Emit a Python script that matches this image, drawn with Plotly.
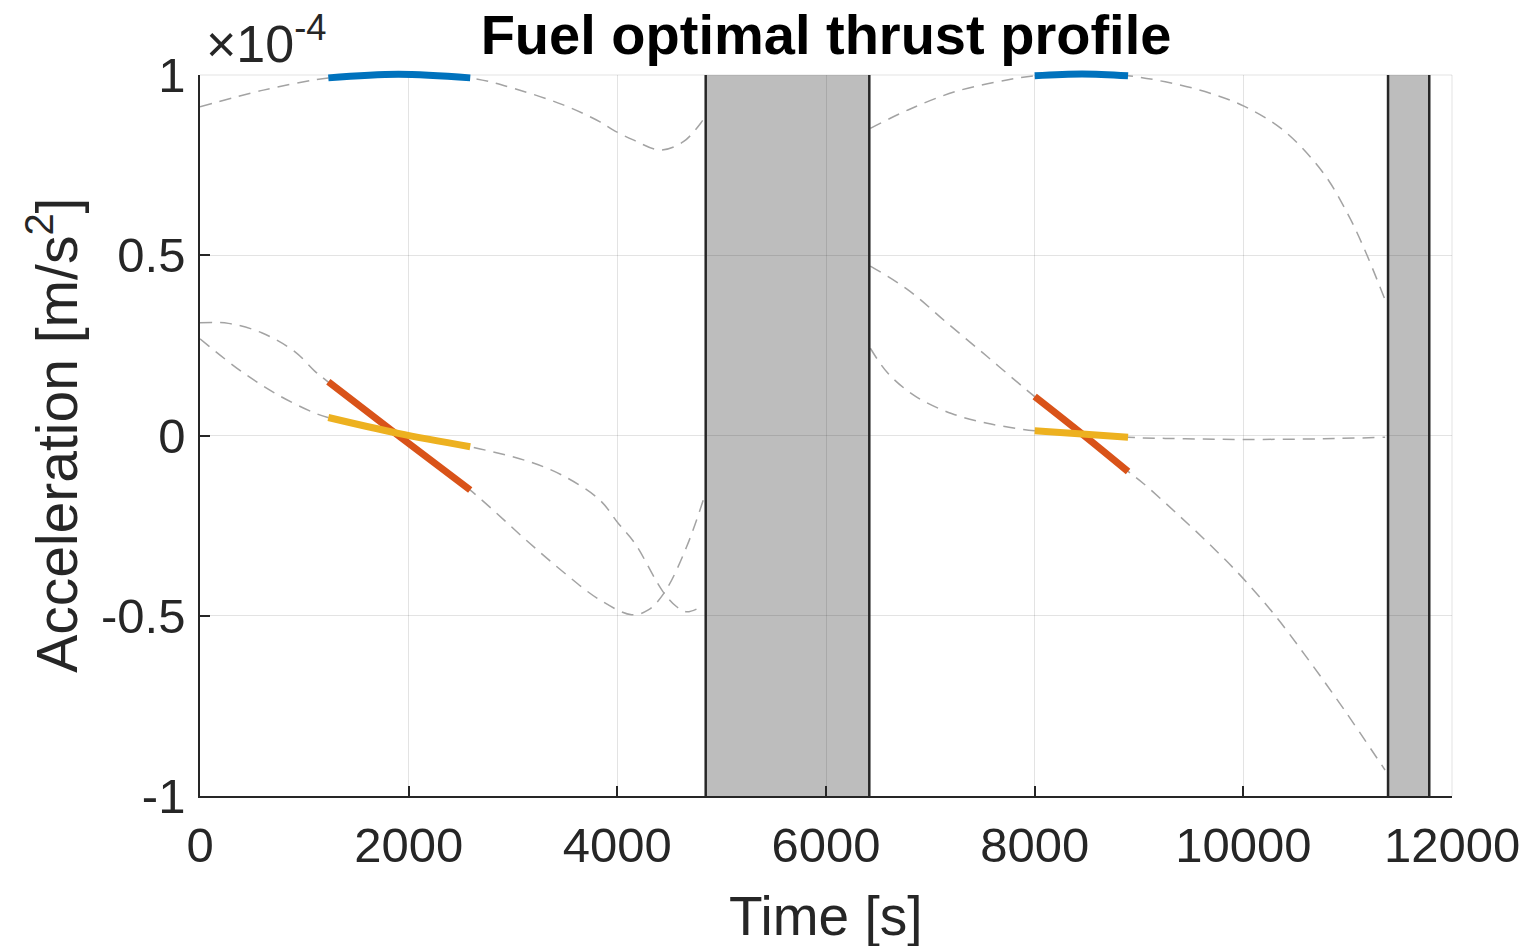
import plotly.graph_objects as go

# ---------------- data (acceleration in units of 1e-4 m/s^2, time in s) ----------------
# Coast/primer-vector curves, arc 1
arc1_tA = [0, 607, 1086, 1230, 1885, 2590, 3003, 3482, 3834, 3962, 4153, 4409, 4633, 4808, 4840]
arc1_A  = [0.912, 0.958, 0.986, 0.992, 1.002, 0.992, 0.963, 0.917, 0.870, 0.847, 0.820, 0.792, 0.815, 0.870, 0.885]
arc1_tB = [0, 272, 591, 911, 1102, 1227, 1900, 2588, 3160, 3496, 3832, 4137, 4297, 4457, 4665, 4824]
arc1_B  = [0.313, 0.311, 0.285, 0.232, 0.178, 0.149, 0.000, -0.151, -0.299, -0.382, -0.456, -0.497, -0.484, -0.433, -0.308, -0.179]
arc1_tC = [0, 400, 751, 1102, 1227, 1899, 2588, 3160, 3496, 3832, 4010, 4168, 4437, 4569, 4665, 4776]
arc1_C  = [0.268, 0.177, 0.112, 0.062, 0.050, 0.006, -0.031, -0.073, -0.114, -0.179, -0.244, -0.299, -0.433, -0.475, -0.489, -0.479]

# Coast/primer-vector curves, arc 2
arc2_tA = [6425, 6786, 7241, 7734, 8000, 8455, 8892, 9252, 9632, 10011, 10391, 10770, 10998, 11150, 11359]
arc2_A  = [0.852, 0.903, 0.954, 0.986, 0.998, 1.003, 0.998, 0.981, 0.954, 0.913, 0.845, 0.727, 0.616, 0.524, 0.376]
arc2_tB = [6425, 6786, 7165, 7545, 7886, 8000, 8898, 9042, 9361, 9681, 10000, 10320, 10639, 10958, 11358]
arc2_B  = [0.470, 0.404, 0.311, 0.219, 0.135, 0.108, -0.100, -0.133, -0.216, -0.303, -0.397, -0.505, -0.628, -0.757, -0.928]
arc2_tC = [6425, 6596, 6862, 7203, 7545, 7886, 8000, 8892, 9442, 10011, 10770, 11359]
arc2_C  = [0.242, 0.172, 0.108, 0.061, 0.034, 0.017, 0.013, -0.005, -0.009, -0.011, -0.009, -0.005]

# Thrust arcs (components)
thr1_t = [1230, 1900, 2590]
thr1_x = [0.992, 1.002, 0.992]
thr1_y = [0.149, 0.000, -0.151]
thr1_z = [0.050, 0.006, -0.031]
thr2_t = [8000, 8455, 8895]
thr2_x = [0.998, 1.003, 0.998]
thr2_y = [0.108, 0.004, -0.100]
thr2_z = [0.013, 0.004, -0.005]

# Eclipse intervals
ecl_start = [4847, 11387]
ecl_end   = [6415, 11782]

x_ticks = [0, 2000, 4000, 6000, 8000, 10000, 12000]
y_ticks = [-1, -0.5, 0, 0.5, 1]
y_ticktext = ["-1", "-0.5", "0", "0.5", "1"]

# ---------------- figure ----------------
GRAY_DASH = "#a3a3a3"
BLUE, RED, YEL = "#0072BD", "#D95319", "#EDB120"
TXT = "#262626"
GRID = "rgba(38,38,38,0.13)"
FONT = "Liberation Sans, Arial, Helvetica, sans-serif"

W, H = 1527, 946
PAGE_OFF = 8                     # default body margin of the html page
M_L, M_R = 200 - PAGE_OFF, 75 + PAGE_OFF
M_T, M_B = 67 - PAGE_OFF, 150 + PAGE_OFF
PLOT_H = H - M_T - M_B          # includes an 8px headroom strip for the thick lines
AX_H = PLOT_H - 8               # 721 px for the visible y-range [-1, 1]
y_lo, y_hi = -1, 1
y2_hi = y_lo + (y_hi - y_lo) * PLOT_H / AX_H

fig = go.Figure()

for tt, vv in [(arc1_tA, arc1_A), (arc1_tB, arc1_B), (arc1_tC, arc1_C),
               (arc2_tA, arc2_A), (arc2_tB, arc2_B), (arc2_tC, arc2_C)]:
    fig.add_trace(go.Scatter(x=tt, y=vv, mode="lines", xaxis="x", yaxis="y",
                             line=dict(color=GRAY_DASH, width=1.5, dash="12px,8px",
                                       shape="spline", smoothing=1.0),
                             hoverinfo="skip", showlegend=False))

for tt, xx, yy, zz in [(thr1_t, thr1_x, thr1_y, thr1_z), (thr2_t, thr2_x, thr2_y, thr2_z)]:
    for vv, col in [(xx, BLUE), (yy, RED), (zz, YEL)]:
        fig.add_trace(go.Scatter(x=tt, y=vv, mode="lines", xaxis="x2", yaxis="y2",
                                 line=dict(color=col, width=7, shape="spline", smoothing=1.0),
                                 showlegend=False))

shapes = []
for s, e in zip(ecl_start, ecl_end):
    shapes.append(dict(type="rect", xref="x", yref="y domain", x0=s, x1=e, y0=0, y1=1,
                       fillcolor="#bdbdbd", line=dict(width=0), layer="below"))
    for xv in (s, e):
        shapes.append(dict(type="line", xref="x", yref="y domain", x0=xv, x1=xv, y0=0, y1=1,
                           line=dict(color=TXT, width=2.5), layer="above"))
# light top / right frame (grid lines at the range ends)
shapes.append(dict(type="line", xref="x domain", yref="y domain", x0=0, x1=1, y0=1, y1=1,
                   line=dict(color=GRID, width=1), layer="below"))
shapes.append(dict(type="line", xref="x domain", yref="y domain", x0=1, x1=1, y0=0, y1=1,
                   line=dict(color=GRID, width=1), layer="below"))

fig.update_layout(
    width=W, height=H,
    margin=dict(l=M_L, r=M_R, t=M_T, b=M_B),
    paper_bgcolor="white", plot_bgcolor="rgba(0,0,0,0)",
    font=dict(family=FONT, color=TXT),
    shapes=shapes,
    title=dict(text="<b>Fuel optimal thrust profile</b>", x=0.5, xref="paper",
               y=1 - 26 / H, yref="container", xanchor="center", yanchor="middle",
               font=dict(size=56, color="black", family=FONT)),
    annotations=[
        dict(text="×10<sup>-4</sup>", xref="x domain", yref="y domain", x=0.003, y=1.0,
             xanchor="left", yanchor="bottom", showarrow=False,
             font=dict(size=52, color=TXT, family=FONT)),
        dict(text="Time [s]", xref="x domain", yref="y domain", x=0.5, y=-0.1664,
             xanchor="center", yanchor="middle", showarrow=False,
             font=dict(size=55, color=TXT, family=FONT)),
        dict(text="Acceleration [m/s<sup>2</sup>]", xref="x domain", yref="y domain",
             x=-0.118, y=0.5, textangle=-90, xanchor="center", yanchor="middle",
             showarrow=False, font=dict(size=57, color=TXT, family=FONT)),
    ],
    xaxis=dict(domain=[0, 1], anchor="y"),
    yaxis=dict(domain=[0, AX_H / PLOT_H], anchor="x"),
    xaxis2=dict(domain=[0, 1], anchor="y2", range=[0, 12000], visible=False, fixedrange=True),
    yaxis2=dict(domain=[0, 1], anchor="x2", range=[y_lo, y2_hi], visible=False, fixedrange=True),
)

fig.update_xaxes(selector=dict(anchor="y"), range=[0, 12000], tickvals=x_ticks,
                 ticktext=[str(v) for v in x_ticks], automargin=False,
                 showgrid=True, gridcolor=GRID, gridwidth=1,
                 zeroline=False, showline=True, linecolor=TXT, linewidth=1.5,
                 ticks="inside", ticklen=10, tickwidth=1.5, tickcolor=TXT,
                 tickfont=dict(size=49, color=TXT, family=FONT), ticklabelstandoff=5)
fig.update_yaxes(selector=dict(anchor="x"), range=[y_lo, y_hi], tickvals=y_ticks,
                 ticktext=y_ticktext, automargin=False,
                 showgrid=True, gridcolor=GRID, gridwidth=1,
                 zeroline=False, showline=True, linecolor=TXT, linewidth=1.5,
                 ticks="inside", ticklen=10, tickwidth=1.5, tickcolor=TXT,
                 tickfont=dict(size=49, color=TXT, family=FONT), ticklabelstandoff=3)

fig.write_html("out.html")
